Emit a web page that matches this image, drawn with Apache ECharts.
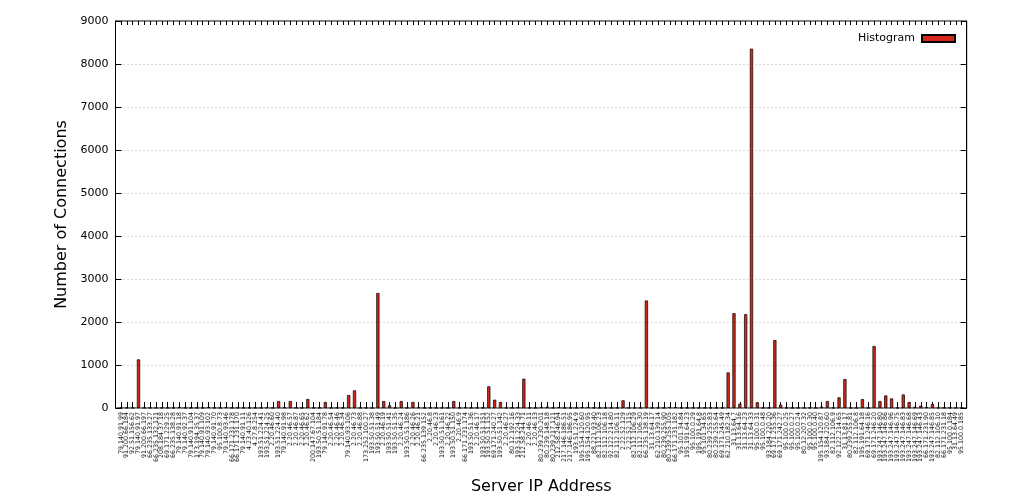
<!DOCTYPE html>
<html>
<head>
<meta charset="utf-8">
<script src="https://cdn.jsdelivr.net/npm/echarts@6/dist/echarts.min.js"></script>
<style>html,body{margin:0;padding:0;background:#fff;}#c{width:1024px;height:503px;}</style>
</head>
<body>
<div id="c"></div>
<script>
const ipLabels = [
'79.140.91.99','91.200.66.184','92.51.156.62','79.140.91.97','91.200.66.197','66.235.133.27','66.235.132.121','208.184.37.18','69.171.229.25','66.235.138.28',
'79.140.91.18','79.140.92.37','79.140.91.104','173.194.35.37','79.140.91.109','79.140.93.102','79.140.91.70','95.100.8.73','79.140.93.46','66.171.231.178',
'66.171.231.170','79.140.91.11','4.23.40.126','4.27.8.254','193.51.224.41','193.51.224.25','2.20.46.60','193.51.224.40','79.140.91.98','2.20.46.57',
'2.20.46.87','2.20.46.65','2.20.46.62','200.147.67.104','193.50.51.184','79.140.91.78','2.20.46.54','2.20.46.46','2.20.46.34','79.140.93.106',
'2.20.46.73','2.20.46.88','173.252.100.27','193.50.51.38','193.50.51.49','2.20.46.19','193.50.51.41','193.50.51.35','2.20.46.24','193.50.51.186',
'2.20.46.26','2.20.46.21','66.235.139.152','2.20.46.8','2.20.46.23','193.50.51.161','2.20.46.22','193.50.51.150','2.20.46.9','66.171.231.174',
'193.50.51.36','2.20.46.17','193.50.51.151','193.50.51.152','69.171.240.27','193.50.51.142','2.20.46.27','80.12.192.16','193.51.224.33','212.58.244.71',
'2.20.46.11','2.20.46.13','80.239.230.201','80.239.148.18','80.239.217.121','212.58.246.94','217.146.186.51','217.146.186.95','193.51.224.9','195.154.120.60',
'195.154.120.95','88.221.93.40','82.112.106.23','82.112.106.18','92.122.214.80','82.112.106.11','2.22.52.129','2.22.52.115','82.112.106.29','82.112.106.30',
'66.235.138.19','31.13.64.17','62.210.139.14','80.239.255.90','80.239.255.105','66.171.231.182','95.101.34.84','195.191.64.23','95.100.0.29','195.191.64.8',
'95.101.34.65','80.239.255.83','80.239.255.64','69.171.245.49','62.210.182.34','31.13.64.7','31.13.64.16','31.13.64.23','31.13.64.33','95.100.0.31',
'95.100.0.48','93.184.220.20','69.171.255.36','69.171.242.27','95.100.0.25','95.100.0.27','95.100.0.24','80.12.207.32','95.100.0.30','95.100.0.40',
'195.154.120.87','93.184.220.60','82.112.106.9','92.122.214.65','31.13.81.17','80.239.255.81','82.112.106.8','195.191.64.18','69.171.246.16','69.171.246.20',
'193.247.146.80','193.247.146.86','193.247.146.96','193.247.146.75','193.247.146.83','193.247.146.68','193.247.146.69','193.247.146.43','66.171.231.90','193.247.146.85',
'82.112.106.10','66.171.231.18','95.100.0.184','31.13.64.49','95.100.0.185'
];

const connections = [
5,5,5,1130,5,5,5,5,5,5,
20,5,5,5,5,20,5,5,20,5,
5,5,5,5,5,15,5,162,15,162,
5,5,209,5,5,139,5,5,5,302,
410,5,5,5,2675,162,60,5,162,5,
139,15,5,5,5,5,5,162,5,15,
5,5,5,503,193,139,5,5,15,681,
5,5,20,30,5,20,5,5,5,20,
20,5,5,5,5,5,178,5,5,5,
2500,5,5,5,20,20,5,5,5,5,
5,5,5,5,827,2205,100,2183,8356,131,
5,5,1580,77,5,5,5,5,5,5,
30,162,5,247,673,5,5,208,5,1442,
162,292,223,5,315,138,30,54,20,92,
5,5,5,5,5
];

const yTicks = { min: 0, max: 9000, interval: 1000 };
const seriesName = 'Histogram';

const chart = echarts.init(document.getElementById('c'), null, { renderer: 'canvas' });
const font = 'DejaVu Sans';
chart.setOption({
  animation: false,
  backgroundColor: '#fff',
  textStyle: { fontFamily: font },
  legend: {
    data: [seriesName],
    right: 63, top: 28,
    align: 'right',
    itemWidth: 33, itemHeight: 7,
    icon: 'rect',
    textStyle: { fontFamily: font, fontSize: 11, color: '#000', padding: [0, 2, 0, 0] }
  },
  grid: [
    { left: 115.5, top: 21, width: 851.2, height: 387, show: true, borderColor: '#000', borderWidth: 1, backgroundColor: 'transparent' },
    { left: 118.08, top: 21, width: 846.5, height: 387, show: false }
  ],
  xAxis: [
    { gridIndex: 0, type: 'value', show: false },
    {
      gridIndex: 1, type: 'category', data: ipLabels, position: 'bottom',
      name: 'Server IP Address', nameLocation: 'middle', nameGap: 71,
      nameTextStyle: { fontFamily: font, fontSize: 16, color: '#000' },
      axisLine: { show: false },
      axisTick: { show: true, inside: true, length: 6, alignWithLabel: true, interval: 0, lineStyle: { color: '#000', width: 1 } },
      axisLabel: { interval: 0, rotate: 90, fontSize: 6.3, margin: 4, color: '#111', fontFamily: font },
      splitLine: { show: false }
    },
    {
      gridIndex: 1, type: 'category', data: ipLabels, position: 'top',
      axisLine: { show: false },
      axisTick: { show: true, inside: true, length: 4, alignWithLabel: true, interval: 0, lineStyle: { color: '#000', width: 1 } },
      axisLabel: { show: false },
      splitLine: { show: false }
    }
  ],
  yAxis: [
    {
      gridIndex: 0, type: 'value', position: 'left',
      min: yTicks.min, max: yTicks.max, interval: yTicks.interval,
      name: 'Number of Connections', nameLocation: 'middle', nameGap: 42,
      nameTextStyle: { fontFamily: font, fontSize: 16, color: '#000' },
      axisLine: { show: true, lineStyle: { color: '#000' } },
      axisTick: { show: true, inside: true, length: 6, lineStyle: { color: '#000' } },
      axisLabel: { fontSize: 11, color: '#000', margin: 7, fontFamily: font, formatter: v => String(v) },
      splitLine: { show: true, lineStyle: { color: '#b4b4b4', type: [1, 3], width: 1 } }
    },
    {
      gridIndex: 0, type: 'value', position: 'right',
      min: yTicks.min, max: yTicks.max, interval: yTicks.interval,
      axisLine: { show: true, lineStyle: { color: '#000' } },
      axisTick: { show: true, inside: true, length: 6, lineStyle: { color: '#000' } },
      axisLabel: { show: false },
      splitLine: { show: false }
    },
    {
      gridIndex: 1, type: 'value', show: false,
      min: yTicks.min, max: yTicks.max, interval: yTicks.interval,
      splitLine: { show: false }
    }
  ],
  series: [{
    name: seriesName,
    type: 'bar',
    xAxisIndex: 1, yAxisIndex: 2,
    data: connections,
    barWidth: 3.2,
    itemStyle: { color: '#d8261a', borderColor: '#000', borderWidth: 0.7 }
  }]
});
</script>
</body>
</html>
